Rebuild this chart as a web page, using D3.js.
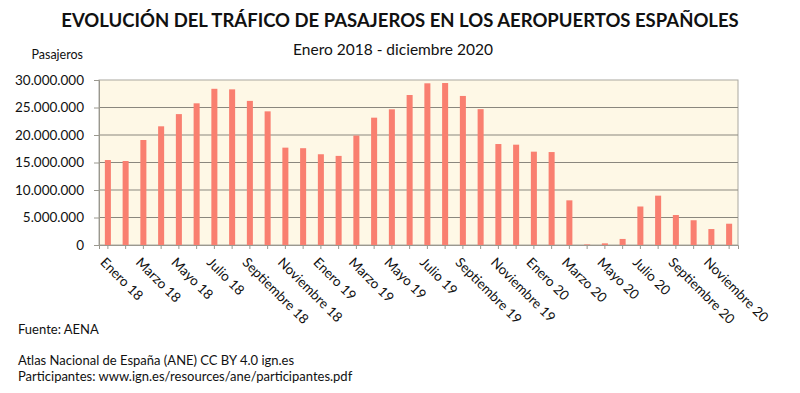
<!DOCTYPE html>
<html>
<head>
<meta charset="utf-8">
<script src="https://cdn.jsdelivr.net/npm/d3@7"></script>
<style>
  body { margin: 0; background: #fff; }
  svg text { font-family: "Lato", "DejaVu Sans", sans-serif; fill: #111; }
</style>
</head>
<body>
<script>
// datos: pasajeros mensuales (millones), enero 2018 - diciembre 2020
var meses = ["Enero","Febrero","Marzo","Abril","Mayo","Junio","Julio","Agosto",
             "Septiembre","Octubre","Noviembre","Diciembre"];
var anios = ["18", "19", "20"];
var pasajeros = [
  15.45, 15.27, 19.09, 21.58, 23.8, 25.76, 28.4, 28.3, 26.2, 24.3, 17.7, 17.6,
  16.5, 16.2, 19.9, 23.15, 24.67, 27.27, 29.4, 29.45, 27.1, 24.7, 18.36, 18.24,
  16.97, 16.9, 8.12, 0.1, 0.3, 1.1, 7.0, 8.97, 5.45, 4.5, 2.9, 3.87
];
var yTicks = [0, 5, 10, 15, 20, 25, 30];

// categorias tipo "Enero 18"
var categorias = [];
anios.forEach(function(a) {
  meses.forEach(function(m) { categorias.push(m + " " + a); });
});
var data = categorias.map(function(c, i) { return { cat: c, val: pasajeros[i] }; });

var width = 800, height = 393;
var margin = { left: 99, right: 62, top: 80, bottom: 148 };
var chartWidth = width - margin.left - margin.right;
var chartHeight = height - margin.top - margin.bottom;

var svg = d3.select("body").append("svg")
  .attr("width", width)
  .attr("height", height);

// titulos
svg.append("text")
  .attr("x", 400).attr("y", 27)
  .attr("text-anchor", "middle")
  .style("font-size", "18.5px").style("font-weight", "bold")
  .text("EVOLUCIÓN DEL TRÁFICO DE PASAJEROS EN LOS AEROPUERTOS ESPAÑOLES");

svg.append("text")
  .attr("x", 393).attr("y", 55)
  .attr("text-anchor", "middle")
  .style("font-size", "15.5px")
  .text("Enero 2018 - diciembre 2020");

svg.append("text")
  .attr("x", 83).attr("y", 59)
  .attr("text-anchor", "end")
  .style("font-size", "12.5px")
  .text("Pasajeros");

var xScale = d3.scaleBand()
  .domain(categorias)
  .range([0, chartWidth])
  .paddingInner(0.66)
  .paddingOuter(0.33);

var yScale = d3.scaleLinear()
  .domain([0, 30])
  .range([chartHeight, 0]);

var g = svg.append("g")
  .attr("transform", "translate(" + margin.left + "," + margin.top + ")");

// fondo
g.append("rect")
  .attr("width", chartWidth).attr("height", chartHeight)
  .attr("fill", "#fef8e6")
  .attr("stroke", "#aaa8a0");

// lineas de cuadricula
g.selectAll(".grid").data(yTicks.slice(1, -1))
  .enter().append("line")
  .attr("x1", 0).attr("x2", chartWidth)
  .attr("y1", function(d) { return yScale(d); })
  .attr("y2", function(d) { return yScale(d); })
  .attr("stroke", "#8a877e").attr("stroke-width", 1);

// barras
g.selectAll(".bar").data(data)
  .enter().append("rect")
  .attr("x", function(d) { return xScale(d.cat); })
  .attr("y", function(d) { return yScale(d.val); })
  .attr("width", xScale.bandwidth())
  .attr("height", function(d) { return chartHeight - yScale(d.val); })
  .attr("fill", "#f97f70");

// eje y
var yAxis = d3.axisLeft(yScale)
  .tickValues(yTicks)
  .tickSize(5)
  .tickPadding(10)
  .tickFormat(function(d) { return d === 0 ? "0" : d3.format(",")(d * 1e6).replace(/,/g, "."); });

var yG = g.append("g").call(yAxis);
yG.selectAll("text").style("font-size", "13.5px").style("font-family", "Lato, sans-serif");
yG.select(".domain").attr("stroke", "#9a988f");
yG.selectAll(".tick line").attr("stroke", "#9a988f");

// eje x
var xAxis = d3.axisBottom(xScale)
  .tickSize(4)
  .tickFormat(function(d, i) { return i % 2 === 0 ? d : ""; });

var xG = g.append("g")
  .attr("transform", "translate(0," + chartHeight + ")")
  .call(xAxis);
xG.select(".domain").attr("stroke", "#9a988f");
xG.selectAll(".tick line").attr("stroke", "#9a988f");
xG.selectAll("text")
  .style("font-size", "13.5px")
  .style("font-family", "Lato, sans-serif")
  .attr("text-anchor", "start")
  .attr("dy", "0.35em")
  .attr("transform", "translate(0,10) rotate(45)");

// notas
var notas = [
  { t: "Fuente: AENA", y: 334 },
  { t: "Atlas Nacional de España (ANE) CC BY 4.0 ign.es", y: 365 },
  { t: "Participantes: www.ign.es/resources/ane/participantes.pdf", y: 381 }
];
svg.selectAll(".nota").data(notas)
  .enter().append("text")
  .attr("x", 18).attr("y", function(d) { return d.y; })
  .style("font-size", "13px")
  .text(function(d) { return d.t; });
</script>
</body>
</html>
